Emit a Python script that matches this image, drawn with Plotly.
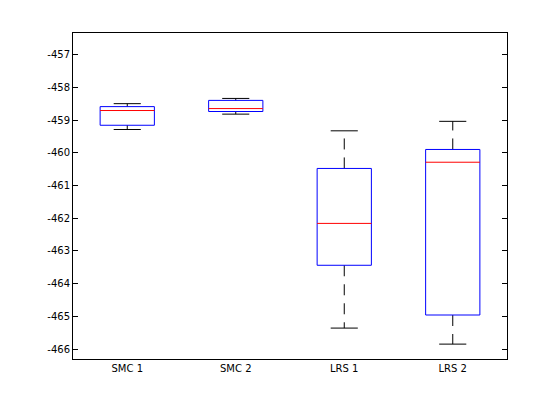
import plotly.graph_objects as go

categories = ["SMC 1", "SMC 2", "LRS 1", "LRS 2"]
positions = [1, 2, 3, 4]
upper_whisker = [-458.50, -458.34, -459.33, -459.04]
q3 = [-458.59, -458.40, -460.48, -459.90]
median = [-458.71, -458.65, -462.16, -460.29]
q1 = [-459.16, -458.74, -463.44, -464.96]
lower_whisker = [-459.29, -458.82, -465.36, -465.85]
y_ticks = [-466, -465, -464, -463, -462, -461, -460, -459, -458, -457]

box_half = 0.25
cap_half = 0.125

fig = go.Figure()

for i, c in enumerate(positions):
    # whiskers (dashed black)
    fig.add_trace(go.Scatter(x=[c, c], y=[q3[i], upper_whisker[i]], mode="lines",
                             line=dict(color="black", width=1, dash="11px,8px"),
                             hoverinfo="skip", showlegend=False))
    fig.add_trace(go.Scatter(x=[c, c], y=[q1[i], lower_whisker[i]], mode="lines",
                             line=dict(color="black", width=1, dash="11px,8px"),
                             hoverinfo="skip", showlegend=False))
    # caps
    fig.add_trace(go.Scatter(x=[c - cap_half, c + cap_half], y=[upper_whisker[i]] * 2, mode="lines",
                             line=dict(color="black", width=1), hoverinfo="skip", showlegend=False))
    fig.add_trace(go.Scatter(x=[c - cap_half, c + cap_half], y=[lower_whisker[i]] * 2, mode="lines",
                             line=dict(color="black", width=1), hoverinfo="skip", showlegend=False))
    # box
    fig.add_trace(go.Scatter(x=[c - box_half, c + box_half, c + box_half, c - box_half, c - box_half],
                             y=[q1[i], q1[i], q3[i], q3[i], q1[i]], mode="lines",
                             line=dict(color="#0000ff", width=1), hoverinfo="skip", showlegend=False))
    # median
    fig.add_trace(go.Scatter(x=[c - box_half, c + box_half], y=[median[i]] * 2, mode="lines",
                             line=dict(color="#ff0000", width=1), hoverinfo="skip", showlegend=False))

fig.update_layout(
    width=552, height=412,
    margin=dict(l=65, r=53, t=25, b=61),
    paper_bgcolor="white", plot_bgcolor="white",
    font=dict(family="DejaVu Sans", size=10, color="black"),
    showlegend=False,
)
fig.update_xaxes(range=[0.5, 4.5], tickvals=positions, ticktext=categories,
                 showgrid=False, zeroline=False, showline=True, linecolor="black",
                 linewidth=1, mirror=True, ticks="", fixedrange=True)
fig.update_yaxes(range=[-466.305, -456.34], tickvals=y_ticks,
                 ticktext=[str(v) for v in y_ticks],
                 showgrid=False, zeroline=False, showline=True, linecolor="black",
                 linewidth=1, mirror="ticks", ticks="inside", ticklen=5, tickcolor="black",
                 fixedrange=True)

fig.write_html("out.html")
